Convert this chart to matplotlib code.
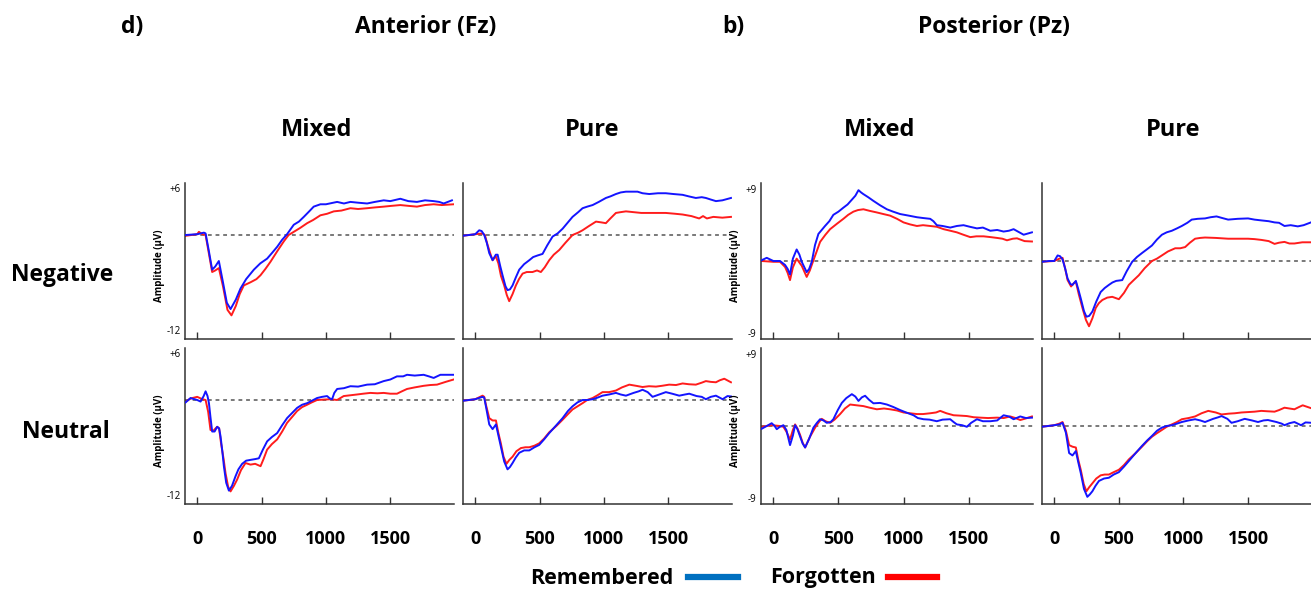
import numpy as np
import matplotlib
matplotlib.use("Agg")
import matplotlib.pyplot as plt

plt.rcParams['font.family'] = ['Open Sans', 'DejaVu Sans']

# ERP-кривые: (время, мс; амплитуда, мкВ)
# Fz, Mixed, Negative
fz_mix_neg_rem = [(-90, 0.0), (0, 0.1), (52, 0.3), (65, 0.2), (90, -2.0), (116, -4.4), (140, -4.0), (168, -3.3),
                  (200, -6.0), (230, -8.6), (259, -9.4), (300, -8.2), (336, -6.8), (380, -5.6), (440, -4.4),
                  (490, -3.6), (543, -3.0), (580, -2.3), (621, -1.5), (660, -0.6), (698, 0.1), (750, 1.3),
                  (790, 1.7), (828, 2.3), (870, 3.0), (905, 3.6), (957, 3.9), (1000, 3.9), (1087, 4.2),
                  (1140, 4.0), (1190, 4.2), (1250, 4.1), (1320, 4.0), (1380, 4.2), (1449, 4.4), (1500, 4.3),
                  (1578, 4.6), (1640, 4.3), (1707, 4.2), (1770, 4.4), (1837, 4.3), (1880, 4.2), (1915, 4.0),
                  (1979, 4.4)]
fz_mix_neg_for = [(-90, -0.1), (0, 0.1), (13, 0.4), (40, 0.1), (65, 0.0), (90, -2.3), (116, -4.7), (140, -4.5),
                  (168, -4.2), (200, -6.5), (235, -9.5), (266, -10.2), (300, -9.0), (330, -7.5), (362, -6.4),
                  (414, -6.0), (460, -5.6), (492, -5.1), (530, -4.3), (569, -3.4), (620, -2.1), (673, -0.8),
                  (710, 0.0), (750, 0.4), (800, 0.9), (854, 1.5), (900, 1.9), (957, 2.5), (1010, 2.7),
                  (1061, 3.0), (1120, 3.1), (1190, 3.4), (1250, 3.3), (1320, 3.4), (1380, 3.5), (1449, 3.6),
                  (1510, 3.7), (1578, 3.8), (1640, 3.7), (1707, 3.6), (1770, 3.8), (1837, 3.9), (1900, 3.8),
                  (1992, 3.9)]

# Fz, Pure, Negative
fz_pure_neg_rem = [(-98, -0.1), (0, 0.1), (31, 0.6), (50, 0.5), (70, 0.0), (90, -1.0), (109, -2.3), (135, -3.2),
                   (160, -2.5), (174, -2.5), (195, -4.0), (212, -5.1), (235, -6.5), (251, -7.0), (270, -6.9),
                   (290, -6.4), (315, -5.4), (342, -4.4), (380, -3.7), (420, -3.2), (450, -2.8), (484, -2.6),
                   (523, -2.4), (560, -1.3), (601, -0.2), (640, 0.2), (679, 0.8), (720, 1.6), (756, 2.3),
                   (800, 2.9), (834, 3.4), (870, 3.6), (912, 3.8), (960, 4.2), (1015, 4.7), (1050, 4.9),
                   (1093, 5.2), (1130, 5.4), (1171, 5.5), (1220, 5.5), (1261, 5.5), (1300, 5.3), (1352, 5.2),
                   (1420, 5.3), (1481, 5.3), (1540, 5.2), (1611, 5.1), (1660, 4.9), (1714, 4.7), (1760, 4.8),
                   (1792, 4.7), (1830, 4.5), (1870, 4.3), (1920, 4.4), (1987, 4.7)]
fz_pure_neg_for = [(-98, -0.1), (0, 0.1), (57, 0.2), (75, 0.0), (95, -1.2), (120, -2.5), (135, -3.2), (160, -2.7),
                   (180, -3.6), (200, -5.2), (225, -6.4), (245, -7.6), (264, -8.4), (290, -7.5), (316, -6.4),
                   (340, -5.6), (368, -4.9), (400, -4.7), (445, -4.7), (480, -4.5), (510, -4.7), (540, -4.1),
                   (575, -3.2), (610, -2.5), (653, -1.9), (700, -1.0), (756, 0.0), (800, 0.3), (834, 0.6),
                   (880, 1.1), (938, 1.7), (980, 1.6), (1015, 1.5), (1050, 2.1), (1093, 2.8), (1130, 2.9),
                   (1171, 3.0), (1230, 2.9), (1290, 2.8), (1352, 2.8), (1420, 2.8), (1481, 2.8), (1550, 2.7),
                   (1611, 2.6), (1680, 2.4), (1740, 2.1), (1770, 2.4), (1800, 2.1), (1850, 2.3), (1920, 2.2),
                   (1987, 2.3)]

# Pz, Mixed, Negative
pz_mix_neg_rem = [(-90, 0.1), (-51, 0.4), (0, 0.0), (51, 0.0), (90, -0.5), (110, -1.0), (128, -1.7), (150, 0.3),
                  (179, 1.45), (200, 0.8), (218, -0.1), (256, -1.4), (275, -1.0), (295, -0.1), (320, 2.0),
                  (346, 3.4), (397, 4.4), (430, 5.0), (461, 5.8), (500, 6.2), (538, 6.7), (570, 7.1), (603, 7.7),
                  (630, 8.2), (654, 8.9), (675, 8.6), (692, 8.4), (730, 8.0), (769, 7.55), (820, 7.0),
                  (872, 6.5), (920, 6.2), (974, 5.9), (1040, 5.7), (1103, 5.5), (1150, 5.4), (1205, 5.3),
                  (1230, 5.0), (1256, 4.5), (1300, 4.4), (1359, 4.2), (1410, 4.4), (1461, 4.5), (1510, 4.3),
                  (1564, 4.1), (1610, 4.2), (1667, 3.8), (1720, 3.9), (1769, 3.7), (1810, 3.8), (1846, 4.0),
                  (1890, 3.6), (1923, 3.3), (1987, 3.6)]
pz_mix_neg_for = [(-90, 0.0), (0, -0.1), (51, -0.1), (90, -0.75), (110, -1.5), (128, -2.4), (150, -0.8),
                  (179, 0.3), (200, -0.2), (218, -0.6), (256, -2.0), (280, -1.2), (308, 0.1), (335, 1.3),
                  (359, 2.4), (400, 3.3), (436, 4.0), (490, 4.7), (538, 5.3), (575, 5.8), (615, 6.2), (650, 6.4),
                  (692, 6.5), (740, 6.3), (795, 6.1), (845, 5.9), (897, 5.7), (950, 5.3), (1000, 4.85),
                  (1050, 4.6), (1103, 4.4), (1150, 4.5), (1205, 4.4), (1256, 4.3), (1308, 4.0), (1360, 3.8),
                  (1410, 3.6), (1460, 3.3), (1513, 3.0), (1560, 3.1), (1615, 3.1), (1670, 3.0), (1718, 2.9),
                  (1760, 2.8), (1795, 2.6), (1840, 2.8), (1872, 2.85), (1930, 2.5), (1987, 2.45)]

# Pz, Pure, Negative
pz_pure_neg_rem = [(-97, -0.1), (-40, 0.0), (0, 0.0), (26, 0.7), (45, 0.6), (64, 0.2), (85, -1.0), (103, -2.2),
                   (125, -2.9), (141, -3.0), (167, -2.5), (185, -3.5), (205, -4.7), (230, -6.3), (249, -7.0),
                   (270, -6.9), (295, -6.35), (325, -5.1), (359, -3.9), (390, -3.4), (423, -3.0), (450, -2.7),
                   (479, -2.5), (526, -2.4), (560, -1.3), (603, -0.1), (640, 0.5), (679, 1.0), (720, 1.5),
                   (756, 1.95), (795, 2.7), (833, 3.3), (870, 3.6), (910, 3.8), (950, 4.1), (987, 4.4),
                   (1030, 4.8), (1064, 5.2), (1110, 5.3), (1167, 5.35), (1210, 5.5), (1256, 5.6), (1300, 5.4),
                   (1346, 5.2), (1420, 5.3), (1500, 5.35), (1550, 5.2), (1603, 5.1), (1660, 5.0), (1705, 4.85),
                   (1740, 4.8), (1782, 4.4), (1830, 4.5), (1885, 4.35), (1930, 4.5), (1995, 4.9)]
pz_pure_neg_for = [(-97, -0.1), (0, 0.0), (40, 0.3), (64, 0.4), (85, -1.0), (103, -2.4), (130, -3.2), (150, -2.8),
                   (167, -2.6), (190, -4.2), (218, -5.9), (245, -7.4), (269, -8.2), (295, -7.2), (321, -5.9),
                   (345, -5.3), (372, -4.9), (410, -4.6), (449, -4.5), (500, -4.8), (540, -4.0), (577, -3.0),
                   (615, -2.4), (654, -1.8), (700, -0.9), (756, 0.0), (795, 0.3), (833, 0.7), (880, 1.2),
                   (936, 1.6), (975, 1.6), (1013, 1.75), (1050, 2.3), (1090, 2.8), (1130, 2.9), (1167, 2.95),
                   (1250, 2.9), (1346, 2.8), (1420, 2.8), (1500, 2.8), (1550, 2.75), (1603, 2.65), (1660, 2.5),
                   (1705, 2.15), (1740, 2.3), (1782, 2.4), (1820, 2.2), (1859, 2.2), (1920, 2.35), (1995, 2.35)]

# Fz, Mixed, Neutral
fz_mix_neu_rem = [(-90, -0.3), (-52, 0.25), (0, 0.0), (26, -0.2), (50, 0.5), (65, 1.1), (80, 0.5), (91, -0.4),
                  (103, -2.2), (116, -4.0), (135, -4.0), (155, -3.4), (170, -3.6), (181, -4.6), (195, -6.5),
                  (207, -8.4), (225, -10.5), (246, -11.5), (270, -10.9), (297, -9.7), (320, -8.8), (349, -8.1),
                  (380, -7.7), (414, -7.6), (450, -7.5), (479, -7.4), (510, -6.3), (543, -5.25), (580, -4.7),
                  (621, -4.2), (660, -3.2), (698, -2.3), (740, -1.6), (776, -1.0), (815, -0.6), (854, -0.4),
                  (890, -0.1), (931, 0.25), (970, 0.4), (1009, 0.5), (1030, 0.2), (1048, 0.1), (1065, 0.9),
                  (1087, 1.4), (1140, 1.5), (1190, 1.75), (1250, 1.7), (1320, 1.95), (1380, 2.0), (1449, 2.4),
                  (1500, 2.6), (1552, 3.0), (1600, 3.0), (1630, 3.2), (1690, 3.1), (1759, 3.2), (1800, 3.0),
                  (1837, 2.8), (1889, 3.2), (1950, 3.2), (1992, 3.2)]
fz_mix_neu_for = [(-90, -0.2), (-50, 0.2), (0, 0.4), (40, 0.1), (65, 0.0), (85, -1.5), (103, -3.8), (125, -3.9),
                  (155, -3.4), (170, -3.6), (185, -5.5), (205, -7.5), (220, -9.3), (240, -11.0), (259, -11.6),
                  (285, -10.9), (310, -10.1), (340, -8.9), (375, -8.0), (414, -8.2), (450, -8.1), (492, -8.4),
                  (515, -7.5), (543, -6.3), (580, -5.6), (621, -5.0), (660, -4.0), (698, -2.9), (740, -2.1),
                  (776, -1.4), (815, -0.9), (854, -0.6), (890, -0.3), (931, 0.0), (980, 0.05), (1035, 0.1),
                  (1087, 0.0), (1138, 0.5), (1190, 0.6), (1242, 0.7), (1290, 0.8), (1345, 0.9), (1400, 0.85),
                  (1449, 0.9), (1500, 0.8), (1552, 0.8), (1590, 1.1), (1630, 1.4), (1690, 1.6), (1759, 1.8),
                  (1810, 1.9), (1863, 1.95), (1930, 2.3), (1992, 2.6)]

# Fz, Pure, Neutral
fz_pure_neu_rem = [(-98, -0.1), (0, 0.1), (57, 0.4), (70, 0.3), (83, -0.8), (109, -3.1), (135, -3.7), (161, -3.1),
                   (180, -4.5), (199, -5.9), (225, -7.8), (251, -8.8), (270, -8.5), (290, -8.0), (315, -7.3),
                   (342, -6.7), (380, -6.4), (420, -6.4), (460, -6.0), (497, -5.7), (535, -5.0), (575, -4.2),
                   (630, -3.2), (679, -2.3), (720, -1.4), (756, -0.8), (795, -0.3), (834, 0.0), (870, 0.0),
                   (912, 0.1), (950, 0.3), (989, 0.55), (1040, 0.7), (1093, 0.9), (1130, 0.7), (1171, 0.55),
                   (1230, 0.9), (1270, 1.1), (1300, 1.3), (1340, 1.0), (1378, 0.4), (1430, 0.7), (1481, 1.0),
                   (1530, 0.8), (1585, 0.55), (1630, 0.7), (1663, 0.8), (1720, 0.5), (1760, 0.4), (1792, 0.1),
                   (1830, 0.4), (1870, 0.55), (1922, 0.1), (1960, 0.5), (1987, 0.45)]
fz_pure_neu_for = [(-98, -0.1), (0, 0.1), (57, 0.55), (70, 0.4), (83, -0.6), (109, -2.3), (135, -2.6), (161, -2.6),
                   (180, -4.2), (199, -5.5), (220, -7.2), (243, -8.1), (265, -7.6), (290, -7.2), (320, -6.5),
                   (355, -6.1), (390, -6.0), (420, -6.0), (460, -5.8), (497, -5.5), (535, -4.9), (575, -4.1),
                   (630, -3.3), (679, -2.5), (720, -1.8), (756, -1.2), (795, -0.8), (834, -0.4), (870, 0.0),
                   (912, 0.25), (950, 0.6), (989, 1.0), (1040, 1.0), (1093, 1.2), (1140, 1.6), (1197, 1.95),
                   (1250, 1.8), (1300, 1.65), (1350, 1.75), (1404, 1.7), (1450, 1.8), (1507, 1.95), (1560, 1.9),
                   (1611, 2.1), (1660, 2.0), (1714, 1.95), (1760, 2.2), (1792, 2.4), (1830, 2.3), (1870, 2.25),
                   (1900, 2.5), (1935, 2.7), (1987, 2.25)]

# Pz, Mixed, Neutral
pz_mix_neu_rem = [(-90, -0.35), (-40, 0.1), (-13, 0.35), (10, 0.0), (26, -0.4), (50, -0.1), (77, 0.1), (100, -0.5),
                  (128, -2.4), (150, -1.2), (167, 0.1), (185, -0.4), (205, -1.3), (225, -2.2), (244, -2.7),
                  (275, -1.6), (308, -0.2), (335, 0.4), (359, 0.85), (385, 0.7), (410, 0.4), (440, 0.5),
                  (461, 0.85), (495, 2.0), (526, 2.9), (560, 3.5), (603, 4.0), (630, 3.7), (654, 3.15),
                  (680, 3.6), (705, 3.8), (735, 3.3), (769, 2.85), (820, 2.9), (872, 2.7), (920, 2.4), (974, 2.0),
                  (1020, 1.7), (1077, 1.35), (1110, 1.0), (1154, 0.85), (1200, 0.8), (1256, 0.6), (1300, 0.8),
                  (1359, 0.85), (1385, 0.5), (1410, 0.2), (1450, 0.1), (1487, -0.1), (1520, 0.4), (1564, 0.85),
                  (1610, 0.6), (1667, 0.6), (1720, 0.7), (1769, 1.35), (1810, 1.2), (1846, 0.85), (1897, 1.2),
                  (1940, 1.0), (1987, 1.05)]
pz_mix_neu_for = [(-90, -0.1), (-13, 0.1), (50, 0.0), (77, -0.1), (100, -0.7), (128, -1.7), (150, -0.5),
                  (167, 0.2), (185, -0.3), (205, -1.1), (225, -2.1), (244, -2.7), (280, -1.4), (321, -0.2),
                  (350, 0.5), (372, 0.9), (400, 0.6), (436, 0.4), (470, 0.8), (513, 1.5), (550, 2.2), (590, 2.7),
                  (640, 2.6), (692, 2.5), (740, 2.3), (795, 2.1), (850, 2.2), (897, 2.1), (950, 1.95),
                  (1000, 1.7), (1050, 1.6), (1103, 1.5), (1150, 1.5), (1205, 1.6), (1250, 1.7), (1282, 1.9),
                  (1330, 1.6), (1385, 1.35), (1440, 1.3), (1487, 1.25), (1540, 1.1), (1590, 1.05), (1650, 1.0),
                  (1718, 1.05), (1770, 1.0), (1820, 1.2), (1860, 1.0), (1897, 0.75), (1940, 0.95), (1987, 1.2)]

# Pz, Pure, Neutral
pz_pure_neu_rem = [(-97, -0.1), (0, 0.1), (40, 0.2), (64, 0.4), (90, -0.85), (115, -3.4), (141, -3.7),
                   (167, -3.15), (185, -4.5), (205, -5.9), (230, -7.9), (256, -8.9), (275, -8.6), (295, -8.2),
                   (320, -7.5), (346, -6.9), (385, -6.6), (423, -6.5), (460, -6.1), (500, -5.8), (540, -5.1),
                   (577, -4.4), (630, -3.4), (679, -2.5), (720, -1.8), (756, -1.25), (795, -0.6), (833, -0.2),
                   (870, 0.0), (910, 0.1), (950, 0.3), (987, 0.5), (1040, 0.7), (1090, 0.85), (1130, 0.7),
                   (1167, 0.5), (1230, 0.9), (1270, 1.1), (1295, 1.25), (1340, 0.9), (1372, 0.4), (1420, 0.6),
                   (1474, 0.9), (1530, 0.7), (1577, 0.5), (1620, 0.7), (1654, 0.75), (1720, 0.5), (1760, 0.3),
                   (1782, 0.1), (1820, 0.35), (1859, 0.5), (1910, 0.1), (1945, 0.45), (1995, 0.4)]
pz_pure_neu_for = [(-97, -0.1), (0, 0.1), (40, 0.3), (64, 0.5), (90, -0.6), (115, -2.4), (141, -2.6), (167, -2.7),
                   (185, -4.2), (205, -5.5), (228, -7.3), (249, -8.2), (270, -7.7), (295, -7.2), (325, -6.6),
                   (359, -6.2), (390, -6.1), (423, -6.1), (460, -5.8), (500, -5.5), (540, -4.9), (577, -4.2),
                   (630, -3.4), (679, -2.6), (720, -1.9), (756, -1.35), (795, -0.9), (833, -0.5), (870, -0.1),
                   (910, 0.2), (950, 0.5), (987, 0.85), (1040, 1.0), (1090, 1.2), (1140, 1.6), (1192, 1.9),
                   (1250, 1.7), (1295, 1.45), (1350, 1.55), (1397, 1.6), (1450, 1.7), (1500, 1.75), (1550, 1.8),
                   (1603, 1.9), (1650, 1.85), (1705, 1.8), (1740, 2.0), (1782, 2.3), (1820, 2.2), (1859, 2.1),
                   (1890, 2.35), (1923, 2.6), (1995, 2.2)]

x_ticks = [0, 500, 1000, 1500]
fz_ticks, fz_labels = [-12, 6], ['-12', '+6']
pz_ticks, pz_labels = [-9, 9], ['-9', '+9']

REM_COLOR = '#1414ff'
FOR_COLOR = '#ff1c1c'

W, H = 1311, 591
fig = plt.figure(figsize=(W / 100, H / 100), dpi=100)


def px_axes(left, top, width, height):
    return fig.add_axes([left / W, 1 - (top + height) / H, width / W, height / H])


def draw_panel(ax, rem, forg, ylim, yticks, ylabels, show_ylabel, show_xlabels):
    t, v = np.array(rem).T
    ax.plot(t, v, color=REM_COLOR, lw=1.4, zorder=3)
    t, v = np.array(forg).T
    ax.plot(t, v, color=FOR_COLOR, lw=1.4, zorder=2)
    ax.axhline(0, color='#555555', lw=1.1, ls=(0, (2.5, 2.5)), zorder=1)
    ax.set_xlim(-95, 1995)
    ax.set_ylim(*ylim)
    for s in ['top', 'right']:
        ax.spines[s].set_visible(False)
    for s in ['left', 'bottom']:
        ax.spines[s].set_color('#333333')
        ax.spines[s].set_linewidth(1.1)
    ax.set_xticks(x_ticks)
    ax.tick_params(axis='x', direction='in', length=5, width=1, color='#333333', pad=19)
    if show_xlabels:
        ax.set_xticklabels([str(x) for x in x_ticks], fontsize=13, fontweight='bold')
    else:
        ax.set_xticklabels([])
    if show_ylabel:
        ax.set_yticks(yticks)
        ax.set_yticklabels(ylabels, fontsize=7)
        ax.tick_params(axis='y', length=0, pad=3)
        ax.set_ylabel('Amplitude (µV)', fontsize=7, fontweight='bold', labelpad=1)
        ax.yaxis.set_label_coords(-0.075, 0.47)
    else:
        ax.set_yticks([])


cols = [(185, 269), (463, 269), (761, 272), (1042, 270)]
rows = [(183, 156), (348, 156)]
fz_lim = (-13.2, 6.6)
pz_lim = (-9.8, 9.8)

panels = [
    (0, 0, fz_mix_neg_rem, fz_mix_neg_for, fz_lim, fz_ticks, fz_labels),
    (0, 1, fz_pure_neg_rem, fz_pure_neg_for, fz_lim, fz_ticks, fz_labels),
    (0, 2, pz_mix_neg_rem, pz_mix_neg_for, pz_lim, pz_ticks, pz_labels),
    (0, 3, pz_pure_neg_rem, pz_pure_neg_for, pz_lim, pz_ticks, pz_labels),
    (1, 0, fz_mix_neu_rem, fz_mix_neu_for, fz_lim, fz_ticks, fz_labels),
    (1, 1, fz_pure_neu_rem, fz_pure_neu_for, fz_lim, fz_ticks, fz_labels),
    (1, 2, pz_mix_neu_rem, pz_mix_neu_for, pz_lim, pz_ticks, pz_labels),
    (1, 3, pz_pure_neu_rem, pz_pure_neu_for, pz_lim, pz_ticks, pz_labels),
]

for r, c, rem, forg, ylim, yt, yl in panels:
    left, width = cols[c]
    top, height = rows[r]
    ax = px_axes(left, top, width, height)
    draw_panel(ax, rem, forg, ylim, yt, yl, c in (0, 2), r == 1)


def ftext(x, y, s, size, ha='center'):
    fig.text(x / W, 1 - y / H, s, fontsize=size, fontweight='bold', ha=ha, va='center')


ftext(121, 27, 'd)', 16.5, ha='left')
ftext(426, 27, 'Anterior (Fz)', 16.5)
ftext(722, 27, 'b)', 16.5, ha='left')
ftext(994, 27, 'Posterior (Pz)', 16.5)
for x, s in [(317, 'Mixed'), (592, 'Pure'), (880, 'Mixed'), (1173, 'Pure')]:
    ftext(x, 130, s, 17)
ftext(62, 275, 'Negative', 16.5)
ftext(66, 432, 'Neutral', 16.5)

# легенда внизу
ftext(530, 578, 'Remembered', 15.5, ha='left')
ftext(770, 578, 'Forgotten', 15.5, ha='left')
fig.add_artist(plt.Line2D([688 / W, 738 / W], [1 - 577 / H] * 2, color='#0070c0', lw=4.5))
fig.add_artist(plt.Line2D([888 / W, 937 / W], [1 - 577 / H] * 2, color='#ff0000', lw=4.5))

fig.savefig('out.png', dpi=100)
